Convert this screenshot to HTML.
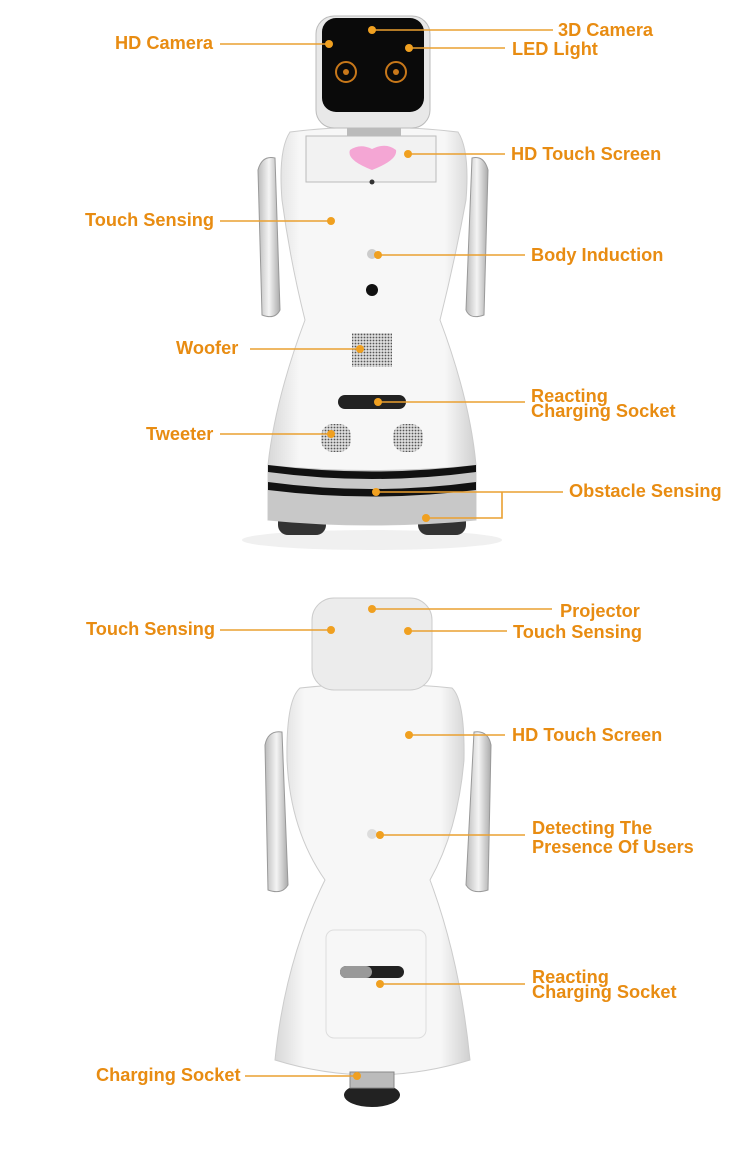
<!DOCTYPE html>
<html><head><meta charset="utf-8"><style>
html,body{margin:0;padding:0;background:#fff;width:750px;height:1156px;overflow:hidden}
svg{display:block}
text{font-family:"Liberation Sans",sans-serif;font-weight:bold;font-size:18.2px;fill:#e88c12}
.l{stroke:#eaa030;stroke-width:1.6;fill:none}
.d{fill:#f0a020}
</style></head><body>
<svg width="750" height="1156" viewBox="0 0 750 1156">
<defs>
<linearGradient id="bg" x1="0" x2="1"><stop offset="0" stop-color="#d8d8d8"/><stop offset=".15" stop-color="#f7f7f7"/><stop offset=".85" stop-color="#f7f7f7"/><stop offset="1" stop-color="#d0d0d0"/></linearGradient>
<linearGradient id="arm" x1="0" x2="1"><stop offset="0" stop-color="#bbb"/><stop offset=".5" stop-color="#f4f4f4"/><stop offset="1" stop-color="#aaa"/></linearGradient>
<pattern id="dots" width="3" height="3" patternUnits="userSpaceOnUse"><rect width="3" height="3" fill="#ddd"/><circle cx="1.5" cy="1.5" r="0.9" fill="#555"/></pattern>
</defs>
<!-- TOP ROBOT -->
<ellipse cx="372" cy="540" rx="130" ry="10" fill="#f0f0f0"/>
<path d="M258 170 Q262 155 275 158 L280 310 Q275 320 262 315 Z" fill="url(#arm)" stroke="#999"/>
<path d="M488 170 Q484 155 472 158 L466 310 Q470 320 484 315 Z" fill="url(#arm)" stroke="#999"/>
<rect x="278" y="510" width="48" height="25" rx="10" fill="#333"/>
<rect x="418" y="510" width="48" height="25" rx="10" fill="#333"/>
<path d="M290 132 Q370 122 458 132 Q470 150 466 200 Q455 260 440 320 Q470 400 476 465 L476 520 Q372 530 268 520 L268 465 Q275 400 305 320 Q290 260 282 200 Q278 150 290 132 Z" fill="url(#bg)" stroke="#ccc"/>
<path d="M268 465 Q372 475 476 465 L476 520 Q372 530 268 520 Z" fill="#c8c8c8"/>
<path d="M268 465 Q372 478 476 465 L476 472 Q372 486 268 472 Z" fill="#111"/>
<path d="M268 482 Q372 496 476 482 L476 490 Q372 503 268 490 Z" fill="#111"/>
<rect x="306" y="136" width="130" height="46" fill="#f2f2f2" stroke="#bbb"/>
<path d="M350 150 Q360 143 372 149 Q386 142 396 150 Q398 160 372 170 Q346 160 350 150 Z" fill="#f4a6d4"/>
<circle cx="372" cy="182" r="2.5" fill="#333"/>
<circle cx="372" cy="290" r="6" fill="#111"/>
<circle cx="372" cy="254" r="5" fill="#ccc"/>
<rect x="352" y="333" width="40" height="34" fill="url(#dots)"/>
<rect x="338" y="395" width="68" height="14" rx="7" fill="#222"/>
<rect x="321" y="424" width="30" height="28" rx="12" fill="url(#dots)"/>
<rect x="393" y="424" width="30" height="28" rx="12" fill="url(#dots)"/>
<rect x="347" y="118" width="54" height="18" fill="#bbb"/>
<rect x="316" y="16" width="114" height="112" rx="18" fill="#e8e8e8" stroke="#bbb"/>
<rect x="322" y="18" width="102" height="94" rx="14" fill="#0a0a0a"/>
<circle cx="346" cy="72" r="10" fill="none" stroke="#c8781a" stroke-width="2"/>
<circle cx="396" cy="72" r="10" fill="none" stroke="#c8781a" stroke-width="2"/>
<circle cx="346" cy="72" r="3" fill="#c8781a"/><circle cx="396" cy="72" r="3" fill="#c8781a"/>
<!-- BOTTOM ROBOT -->
<path d="M265 745 Q268 730 282 732 L288 885 Q282 895 268 890 Z" fill="url(#arm)" stroke="#999"/>
<path d="M491 745 Q488 730 474 732 L466 885 Q472 895 488 890 Z" fill="url(#arm)" stroke="#999"/>
<ellipse cx="372" cy="1095" rx="28" ry="12" fill="#222"/>
<path d="M300 688 Q372 680 452 688 Q465 700 464 760 Q458 830 430 880 Q460 960 470 1060 Q372 1090 275 1060 Q285 960 325 880 Q290 830 287 760 Q286 700 300 688 Z" fill="url(#bg)" stroke="#ccc"/>
<rect x="326" y="930" width="100" height="108" rx="8" fill="#f7f7f7" stroke="#ddd"/>
<rect x="340" y="966" width="64" height="12" rx="6" fill="#222"/>
<rect x="340" y="966" width="32" height="12" rx="6" fill="#999"/>
<circle cx="372" cy="834" r="5" fill="#ddd"/>
<rect x="350" y="1072" width="44" height="16" fill="#bbb" stroke="#888"/>
<rect x="312" y="598" width="120" height="92" rx="22" fill="#ececec" stroke="#ccc"/>
<!-- CALLOUTS -->
<g class="l">
<path d="M220 44H328"/><path d="M372 30H553"/><path d="M409 48H505"/><path d="M408 154H505"/>
<path d="M220 221H330"/><path d="M378 255H525"/><path d="M250 349H360"/><path d="M378 402H525"/>
<path d="M220 434H330"/><path d="M376 492H563"/><path d="M502 492V518H426"/>
<path d="M372 609H552"/><path d="M220 630H330"/><path d="M408 631H507"/><path d="M409 735H505"/>
<path d="M380 835H525"/><path d="M380 984H525"/><path d="M245 1076H357"/>
</g>
<g class="d">
<circle cx="329" cy="44" r="4"/><circle cx="372" cy="30" r="4"/><circle cx="409" cy="48" r="4"/><circle cx="408" cy="154" r="4"/>
<circle cx="331" cy="221" r="4"/><circle cx="378" cy="255" r="4"/><circle cx="360" cy="349" r="4"/><circle cx="378" cy="402" r="4"/>
<circle cx="331" cy="434" r="4"/><circle cx="376" cy="492" r="4"/><circle cx="426" cy="518" r="4"/>
<circle cx="372" cy="609" r="4"/><circle cx="331" cy="630" r="4"/><circle cx="408" cy="631" r="4"/><circle cx="409" cy="735" r="4"/>
<circle cx="380" cy="835" r="4"/><circle cx="380" cy="984" r="4"/><circle cx="357" cy="1076" r="4"/>
</g>
<text x="115" y="49">HD Camera</text>
<text x="558" y="36">3D Camera</text>
<text x="512" y="55">LED Light</text>
<text x="511" y="160">HD Touch Screen</text>
<text x="85" y="226">Touch Sensing</text>
<text x="531" y="261">Body Induction</text>
<text x="176" y="354">Woofer</text>
<text x="531" y="402">Reacting</text>
<text x="531" y="417">Charging Socket</text>
<text x="146" y="440">Tweeter</text>
<text x="569" y="497">Obstacle Sensing</text>
<text x="560" y="617">Projector</text>
<text x="86" y="635">Touch Sensing</text>
<text x="513" y="638">Touch Sensing</text>
<text x="512" y="741">HD Touch Screen</text>
<text x="532" y="834">Detecting The</text>
<text x="532" y="853">Presence Of Users</text>
<text x="532" y="983">Reacting</text>
<text x="532" y="998">Charging Socket</text>
<text x="96" y="1081">Charging Socket</text>
</svg>
</body></html>
